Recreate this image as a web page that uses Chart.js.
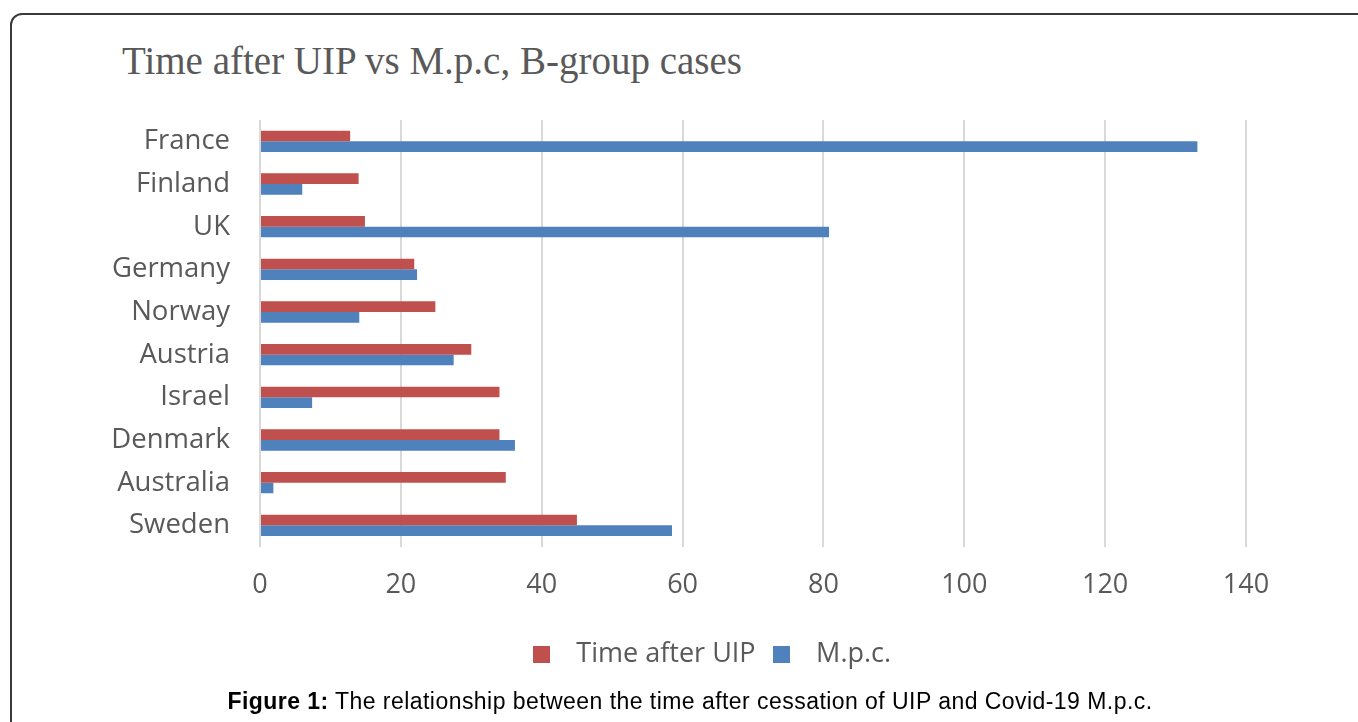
<!DOCTYPE html>
<html>
<head>
<meta charset="utf-8">
<script src="https://cdn.jsdelivr.net/npm/chart.js"></script>
<style>
  html, body { margin: 0; padding: 0; background: #fff; }
  body { width: 1358px; height: 722px; position: relative; overflow: hidden; }
  #frame {
    position: absolute; left: 10px; top: 13px; width: 1400px; height: 800px;
    border: 2px solid #3a3a3a; border-radius: 12px; box-sizing: border-box;
  }
  #title {
    position: absolute; left: 122px; top: 41px; line-height: 1;
    font-family: "Liberation Serif", serif; font-size: 39px; color: #595959; white-space: nowrap;
  }
  #caption {
    position: absolute; left: 190px; top: 690px; width: 1000px; text-align: center; line-height: 1;
    font-family: "Liberation Sans", Arial, sans-serif; font-size: 23px; letter-spacing: 0.45px;
    color: #000; white-space: nowrap;
  }
  #wrap { position: absolute; left: 0; top: 0; width: 1358px; height: 722px; }
</style>
</head>
<body>
<div id="frame"></div>
<div id="title">Time after UIP vs M.p.c, B-group cases</div>
<div id="wrap"><canvas id="chart"></canvas></div>
<div id="caption"><b>Figure 1:</b> The relationship between the time after cessation of UIP and Covid-19 M.p.c.</div>
<script>
// ===========================
// Data
// ===========================

const categories = ["France", "Finland", "UK", "Germany", "Norway", "Austria", "Israel", "Denmark", "Australia", "Sweden"];
const timeAfterUIP = [12.8, 14.0, 14.9, 21.9, 24.9, 30.0, 34.0, 34.0, 34.9, 45.0];
const mpc = [133.1, 6.0, 80.8, 22.3, 14.1, 27.5, 7.4, 36.2, 1.9, 58.5];
const xTicks = [0, 20, 40, 60, 80, 100, 120, 140];

const RED = "#C0504D";
const BLUE = "#4F81BD";
const GREY = "#595959";

// square legend markers with some room around them
function swatch(color) {
  const c = document.createElement("canvas");
  c.width = 17;
  c.height = 17;
  const g = c.getContext("2d");
  g.fillStyle = color;
  g.fillRect(0, 0, 17, 17);
  return c;
}
const swatches = [swatch(RED), swatch(BLUE)];

// ===========================
// Create Chart
// ===========================

const ctx = document.getElementById("chart").getContext("2d");

new Chart(ctx, {
  type: "bar",
  data: {
    labels: categories,
    datasets: [
      { label: "Time after UIP", data: timeAfterUIP, backgroundColor: RED },
      { label: "M.p.c.", data: mpc, backgroundColor: BLUE },
    ],
  },
  options: {
    indexAxis: "y",
    responsive: true,
    maintainAspectRatio: false,
    animation: false,
    datasets: {
      bar: { categoryPercentage: 0.5, barPercentage: 1.0 },
    },
    layout: {
      padding: { left: 166, right: 112, top: 120, bottom: 44.5 },
    },
    scales: {
      x: {
        min: 0,
        max: 140,
        afterBuildTicks: (scale) => {
          scale.ticks = xTicks.map((v) => ({ value: v }));
        },
        afterFit: (scale) => {
          scale.height = 88.8;
        },
        grid: { color: "#D9D9D9", lineWidth: 2, drawTicks: false },
        border: { display: false },
        ticks: {
          color: GREY,
          padding: 22,
          font: { family: "Open Sans", size: 27 },
        },
      },
      y: {
        afterFit: (scale) => {
          scale.width = 94;
          // labels are wider than the axis box, don't clip them
          scale._computeLabelArea = () => undefined;
        },
        grid: { display: false, drawTicks: false },
        border: { display: false },
        ticks: {
          color: GREY,
          padding: 30,
          font: { family: "Open Sans", size: 27.5 },
        },
      },
    },
    plugins: {
      title: { display: false },
      tooltip: { enabled: false },
      legend: {
        position: "bottom",
        labels: {
          color: GREY,
          font: { family: "Open Sans", size: 27 },
          usePointStyle: true,
          pointStyleWidth: 42,
          padding: 5,
          generateLabels: (chart) =>
            Chart.defaults.plugins.legend.labels
              .generateLabels(chart)
              .map((item, i) => ({ ...item, pointStyle: swatches[i] })),
        },
      },
    },
  },
});
</script>
</body>
</html>
